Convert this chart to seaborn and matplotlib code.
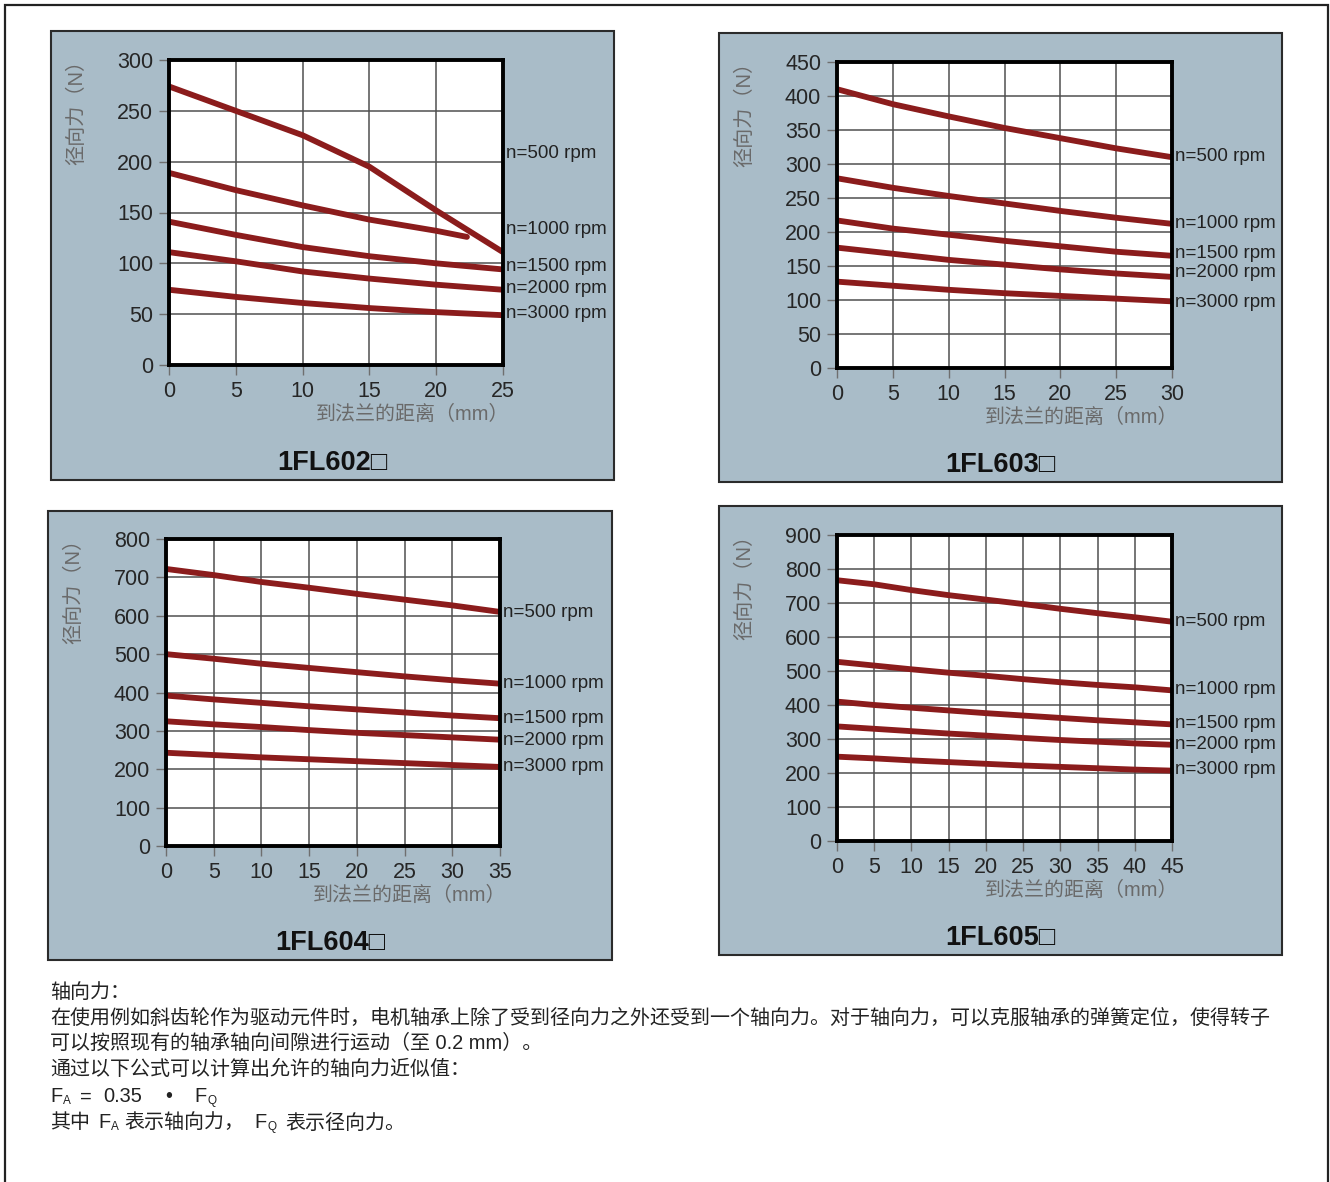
"""
Radial force vs. distance to flange for 1FL60x motors (4 panels)
plus the axial-force note underneath.
"""

import numpy as np
import pandas as pd
import matplotlib
matplotlib.use("Agg")
import matplotlib.pyplot as plt
from matplotlib.patches import Rectangle
import seaborn as sns

# ── Data ───────────────────────────────────────────────────────
SPEEDS = ["n=500 rpm", "n=1000 rpm", "n=1500 rpm", "n=2000 rpm", "n=3000 rpm"]

# 1FL602
x_602 = [0, 5, 10, 15, 20, 25]
x_602_1000 = [0, 5, 10, 15, 20, 22.3]
f602_500 = [274, 250, 226, 195, 152, 111]
f602_1000 = [189, 172, 157, 143, 132, 126]
f602_1500 = [141, 128, 116, 107, 100, 94]
f602_2000 = [111, 102, 92, 85, 79, 74]
f602_3000 = [74, 67, 61, 56, 52, 49]

# 1FL603
x_603 = [0, 5, 10, 15, 20, 25, 30]
f603_500 = [410, 388, 370, 353, 338, 323, 310]
f603_1000 = [279, 265, 253, 242, 231, 221, 212]
f603_1500 = [217, 205, 196, 187, 179, 171, 165]
f603_2000 = [177, 168, 159, 152, 145, 139, 134]
f603_3000 = [127, 121, 115, 110, 106, 102, 98]

# 1FL604
x_604 = [0, 5, 10, 15, 20, 25, 30, 35]
f604_500 = [722, 706, 688, 673, 657, 642, 627, 610]
f604_1000 = [500, 488, 475, 464, 453, 442, 432, 423]
f604_1500 = [392, 382, 373, 364, 356, 348, 340, 333]
f604_2000 = [325, 317, 310, 302, 295, 289, 283, 277]
f604_3000 = [243, 237, 231, 226, 221, 216, 211, 206]

# 1FL605
x_605 = [0, 5, 10, 15, 20, 25, 30, 35, 40, 45]
f605_500 = [767, 755, 738, 723, 710, 697, 683, 670, 658, 645]
f605_1000 = [527, 516, 505, 495, 486, 476, 467, 459, 452, 443]
f605_1500 = [410, 400, 392, 384, 376, 369, 362, 355, 349, 343]
f605_2000 = [337, 330, 323, 316, 310, 303, 297, 292, 287, 283]
f605_3000 = [248, 243, 237, 232, 227, 222, 218, 214, 210, 207]

PANELS = [
    dict(title="1FL602□", xmax=25, ymax=300, ystep=50,
         xs=[x_602, x_602_1000, x_602, x_602, x_602],
         ys=[f602_500, f602_1000, f602_1500, f602_2000, f602_3000]),
    dict(title="1FL603□", xmax=30, ymax=450, ystep=50,
         xs=[x_603] * 5,
         ys=[f603_500, f603_1000, f603_1500, f603_2000, f603_3000]),
    dict(title="1FL604□", xmax=35, ymax=800, ystep=100,
         xs=[x_604] * 5,
         ys=[f604_500, f604_1000, f604_1500, f604_2000, f604_3000]),
    dict(title="1FL605□", xmax=45, ymax=900, ystep=100,
         xs=[x_605] * 5,
         ys=[f605_500, f605_1000, f605_1500, f605_2000, f605_3000]),
]

# ── Layout (pixel boxes: x0, y0, x1, y1) ───────────────────────
W, H = 1330, 1182
PANEL_BOX = [(51, 31, 614, 480), (719, 33, 1282, 482),
             (48, 511, 612, 960), (719, 506, 1282, 955)]
AX_BOX = [(169, 60, 503, 365), (837, 62, 1172, 368),
          (166, 539, 500, 846), (837, 535, 1172, 841)]
# y position (data units) of the speed labels right of each chart
LABEL_Y = [[208, 133, 97, 75, 51],
           [311, 212, 169, 140, 97],
           [609, 424, 331, 276, 206],
           [647, 447, 347, 285, 209]]

RED = "#8b1c1c"
PANEL_BG = "#a9bcc8"

sns.set_style("white")
plt.rcParams["font.family"] = ["Liberation Sans", "Noto Sans CJK SC", "DejaVu Sans"]


def fx(px):
    return px / W


def fy(py):
    return 1 - py / H


fig = plt.figure(figsize=(W / 100, H / 100), dpi=100)
fig.patch.set_facecolor("white")

# outer frame
fig.patches.append(Rectangle((fx(5), fy(1190)), fx(1323), 1185 / H,
                             transform=fig.transFigure, fill=False,
                             edgecolor="#222222", lw=1.6, zorder=-2))

for p, pbox, abox, lab_y in zip(PANELS, PANEL_BOX, AX_BOX, LABEL_Y):
    x0, y0, x1, y1 = pbox
    fig.patches.append(Rectangle((fx(x0), fy(y1)), fx(x1 - x0), (y1 - y0) / H,
                                 transform=fig.transFigure, facecolor=PANEL_BG,
                                 edgecolor="#2b2b2b", lw=1.5, zorder=-1))

    a0, b0, a1, b1 = abox
    ax = fig.add_axes([fx(a0), fy(b1), fx(a1 - a0), (b1 - b0) / H])
    ax.set_zorder(2)
    ax.set_facecolor("white")

    rows = []
    for name, xs, ys in zip(SPEEDS, p["xs"], p["ys"]):
        rows += [dict(dist=x, force=y, speed=name) for x, y in zip(xs, ys)]
    df = pd.DataFrame(rows)
    sns.lineplot(data=df, x="dist", y="force", hue="speed", hue_order=SPEEDS,
                 palette=[RED] * 5, lw=4.2, legend=False, sort=False,
                 estimator=None, ax=ax, zorder=3)

    ax.set_xlim(0, p["xmax"])
    ax.set_ylim(0, p["ymax"])
    ax.set_xticks(np.arange(0, p["xmax"] + 1, 5))
    ax.set_yticks(np.arange(0, p["ymax"] + 1, p["ystep"]))
    ax.grid(True, color="#4f4f4f", lw=1.1)
    ax.set_axisbelow(True)
    for sp in ax.spines.values():
        sp.set_color("black")
        sp.set_linewidth(2.8)
        sp.set_zorder(4)
    ax.tick_params(axis="both", direction="out", length=7.5, width=1,
                   color="#6f6f6f", labelsize=15.5, labelcolor="#262626", pad=4,
                   left=True, bottom=True)
    ax.set_xlabel("")
    ax.set_ylabel("")

    # speed labels
    for name, yv in zip(SPEEDS, lab_y):
        ax.text(1.008, yv, name, transform=ax.get_yaxis_transform(),
                ha="left", va="center", fontsize=13.5, color="#222222",
                clip_on=False)

    # axis titles
    fig.text(fx(a0 - 92), fy(b0 - 10), "径向力（N）", rotation=90,
             ha="center", va="top", fontsize=14.5, color="#6a6a6a")
    fig.text(fx(a1 + 6), fy(b1 + 49), "到法兰的距离（mm）",
             ha="right", va="center", fontsize=14.4, color="#6a6a6a")

    # panel title
    fig.text(fx((x0 + x1) / 2), fy(y1 - 17), p["title"], ha="center",
             va="center", fontsize=19.5, fontweight="bold", color="#111111")

# ── Note text ──────────────────────────────────────────────────
TXT = dict(fontsize=14.4, color="#222222", va="center", ha="left")
SUB = dict(fontsize=8.5, color="#222222", va="baseline", ha="left")
notes = [
    (992, "轴向力："),
    (1018, "在使用例如斜齿轮作为驱动元件时，电机轴承上除了受到径向力之外还受到一个轴向力。对于轴向力，可以克服轴承的弹簧定位，使得转子"),
    (1043, "可以按照现有的轴承轴向间隙进行运动（至 0.2 mm）。"),
    (1069, "通过以下公式可以计算出允许的轴向力近似值："),
]
for py, s in notes:
    fig.text(fx(50), fy(py), s, **TXT)

# formula line: F_A = 0.35 • F_Q
for px, s in [(50, "F"), (80, "="), (103, "0.35"), (165, "•"), (194, "F")]:
    fig.text(fx(px), fy(1097), s, **TXT)
fig.text(fx(63), fy(1104), "A", **SUB)
fig.text(fx(207), fy(1104), "Q", **SUB)

# last line
for px, s in [(50, "其中"), (98, "F"), (124, "表示轴向力，"), (254, "F"), (285, "表示径向力。")]:
    fig.text(fx(px), fy(1123), s, **TXT)
fig.text(fx(111), fy(1130), "A", **SUB)
fig.text(fx(267), fy(1130), "Q", **SUB)

fig.savefig("out.png", dpi=100)
plt.close(fig)
